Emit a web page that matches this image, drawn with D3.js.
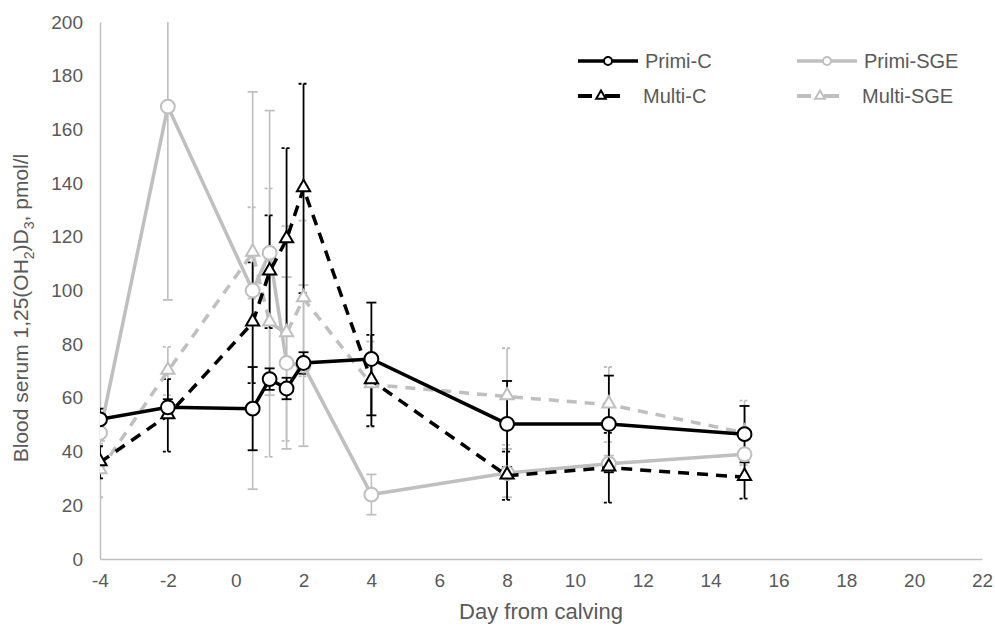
<!DOCTYPE html>
<html>
<head>
<meta charset="utf-8">
<script src="https://cdn.jsdelivr.net/npm/d3@7"></script>
<style>
  body { margin: 0; background: #fff; }
  text { font-family: "Liberation Sans", Arial, sans-serif; fill: #595959; }
</style>
</head>
<body>
<div id="chart"></div>
<script>
// days after calving where blood was sampled
var days = [-4, -2, 0.5, 1, 1.5, 2, 4, 8, 11, 15];

var primiC      = [52, 56.5, 56, 67, 63.5, 73, 74.5, 50.3, 50.3, 46.5];
var primiCErr   = [4, 3, 15.5, 4, 4, 4, 21, 16, 18, 10.5];
var primiSGE    = [47, 168.5, 100, 114, 73, 72, 24, 32, 35.5, 39];
var primiSGEErr = [3, 72, 74, 53, 32, 30, 7.5, 9, 3, 2];
var multiC      = [36, 53.5, 88, 107, 119, 138, 66.5, 31, 34, 30.5];
var multiCErr   = [6, 13.5, 22.5, 21, 34, 39, 17, 9, 13, 8];
var multiSGE    = [33, 70, 114, 88, 84, 97, 65, 60.5, 57.5, 47];
var multiSGEErr = [10, 9, 17, 50, 40, 29, 16, 18, 14, 12];

var xTicks = [-4, -2, 0, 2, 4, 6, 8, 10, 12, 14, 16, 18, 20, 22];
var yTicks = [0, 20, 40, 60, 80, 100, 120, 140, 160, 180, 200];

var width = 995, height = 627;
var margin = {left: 100, right: 13, top: 22, bottom: 68};

var x = d3.scaleLinear().domain([-4, 22]).range([margin.left, width - margin.right]);
var y = d3.scaleLinear().domain([0, 200]).range([height - margin.bottom, margin.top]);

var svg = d3.select("#chart").append("svg")
    .attr("width", width)
    .attr("height", height);

svg.append("clipPath").attr("id", "plot")
  .append("rect")
    .attr("x", margin.left).attr("y", margin.top)
    .attr("width", width - margin.left - margin.right)
    .attr("height", height - margin.top - margin.bottom);

// axes, no tick marks, just grey lines
var xAxis = d3.axisBottom(x).tickValues(xTicks).tickSize(0).tickPadding(15)
    .tickFormat(function(d) { return String(d); });
var yAxis = d3.axisLeft(y).tickValues(yTicks).tickSize(0).tickPadding(17)
    .tickFormat(function(d) { return String(d); });

var gx = svg.append("g").attr("transform", "translate(0," + y(0) + ")").call(xAxis);
var gy = svg.append("g").attr("transform", "translate(" + x(-4) + ",0)").call(yAxis);
[gx, gy].forEach(function(g) {
  g.select(".domain").attr("stroke", "#bfbfbf").attr("stroke-width", 1.5);
  g.selectAll("text").style("font-size", "19px").attr("fill", "#595959")
    .style("font-family", null);
});

svg.append("text")
    .attr("x", 541)
    .attr("y", 619)
    .attr("text-anchor", "middle")
    .style("font-size", "22px")
    .text("Day from calving");

var yl = svg.append("text")
    .attr("transform", "translate(28," + 308 + ") rotate(-90)")
    .attr("text-anchor", "middle")
    .style("font-size", "21px");
yl.append("tspan").text("Blood serum 1,25(OH");
yl.append("tspan").text("2").attr("dy", 6).style("font-size", "14px");
yl.append("tspan").text(")D").attr("dy", -6);
yl.append("tspan").text("3").attr("dy", 6).style("font-size", "14px");
yl.append("tspan").text(", pmol/l").attr("dy", -6);

var series = [
  {name: "Primi-SGE", vals: primiSGE, err: primiSGEErr, color: "#bfbfbf", dash: null, marker: "circle"},
  {name: "Multi-SGE", vals: multiSGE, err: multiSGEErr, color: "#bfbfbf", dash: "10,8", marker: "triangle"},
  {name: "Multi-C", vals: multiC, err: multiCErr, color: "#000", dash: "11,8", marker: "triangle"},
  {name: "Primi-C", vals: primiC, err: primiCErr, color: "#000", dash: null, marker: "circle"}
];

var plot = svg.append("g").attr("clip-path", "url(#plot)");

var line = d3.line()
    .x(function(d) { return x(d[0]); })
    .y(function(d) { return y(d[1]); });

var circ = d3.symbol().type(d3.symbolCircle).size(150);
var tri = d3.symbol().type(d3.symbolTriangle).size(75);

// error bars first
series.forEach(function(s) {
  var g = plot.append("g");
  days.forEach(function(d, i) {
    var lo = s.vals[i] - s.err[i], hi = s.vals[i] + s.err[i];
    g.append("line")
      .attr("x1", x(d)).attr("x2", x(d))
      .attr("y1", y(lo)).attr("y2", y(hi))
      .attr("stroke", s.color).attr("stroke-width", s.color == "#000" ? 1.8 : 1.6);
    [lo, hi].forEach(function(v) {
      g.append("line")
        .attr("x1", x(d) - 5).attr("x2", x(d) + 5)
        .attr("y1", y(v)).attr("y2", y(v))
        .attr("stroke", s.color).attr("stroke-width", 1.8)
        .attr("stroke-dasharray", s.dash ? "3,2" : null);
    });
  });
});

series.forEach(function(s) {
  var pts = days.map(function(d, i) { return [d, s.vals[i]]; });
  plot.append("path")
    .attr("d", line(pts))
    .attr("fill", "none")
    .attr("stroke", s.color)
    .attr("stroke-width", 3.5)
    .attr("stroke-dasharray", s.dash);
  plot.selectAll(null).data(pts).enter().append("path")
    .attr("d", s.marker == "circle" ? circ : tri)
    .attr("transform", function(d) { return "translate(" + x(d[0]) + "," + (y(d[1]) + (s.marker == "circle" ? 0 : -1)) + ")"; })
    .attr("fill", "#fff")
    .attr("stroke", s.color)
    .attr("stroke-width", 2);
});

// legend
var legend = [
  {s: series[3], lx: 578, ly: 61},
  {s: series[0], lx: 797, ly: 61},
  {s: series[2], lx: 578, ly: 96},
  {s: series[1], lx: 797, ly: 96}
];
legend.forEach(function(l) {
  var g = svg.append("g").attr("transform", "translate(" + l.lx + "," + l.ly + ")");
  var dashed = l.s.dash != null;
  if (dashed) {
    g.append("line").attr("x1", 0).attr("x2", 14).attr("stroke", l.s.color).attr("stroke-width", 4);
    g.append("line").attr("x1", 27).attr("x2", 42).attr("stroke", l.s.color).attr("stroke-width", 4);
  } else {
    g.append("line").attr("x1", 0).attr("x2", 60).attr("stroke", l.s.color).attr("stroke-width", 3.5);
  }
  g.append("path")
    .attr("d", l.s.marker == "circle" ? d3.symbol().type(d3.symbolCircle).size(50) : d3.symbol().type(d3.symbolTriangle).size(40))
    .attr("transform", "translate(" + (dashed ? 23 : 30) + ",0)")
    .attr("fill", "#fff")
    .attr("stroke", l.s.color)
    .attr("stroke-width", 2);
  g.append("text")
    .attr("x", dashed ? 65 : 67)
    .attr("y", 7)
    .style("font-size", "20px")
    .text(l.s.name);
});
</script>
</body>
</html>
